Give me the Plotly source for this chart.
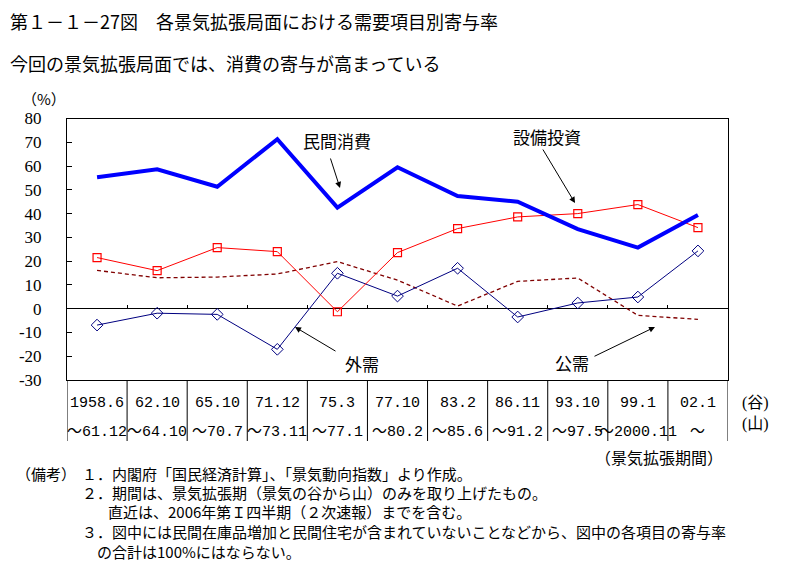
import plotly.graph_objects as go

# ---- data ----
periods_start = ["1958.6", "62.10", "65.10", "71.12", "75.3", "77.10",
                 "83.2", "86.11", "93.10", "99.1", "02.1"]
periods_end = ["～61.12", "～64.10", "～70.7", "～73.11", "～77.1", "～80.2",
               "～85.6", "～91.2", "～97.5", "～2000.11", "～"]
private_consumption = [55.3, 58.6, 51.3, 71.3, 42.5, 59.5, 47.4, 45.0, 33.5, 25.7, 39.4]
capex = [21.5, 16.0, 25.7, 24.0, -1.3, 23.6, 33.7, 38.6, 40.0, 43.8, 34.1]
external = [-6.9, -1.9, -2.4, -17.1, 14.9, 5.3, 17.0, -3.5, 2.4, 4.9, 24.3]
public = [16.1, 13.0, 13.3, 14.6, 19.8, 12.0, 1.1, 11.5, 12.9, -2.8, -4.5]
y_ticks = [80, 70, 60, 50, 40, 30, 20, 10, 0, -10, -20, -30]
y_tick_text = ["80", "70", "60", "50", "40", "30", "20", "10", "0", "-10", "-20", "-30"]

title = "第１－１－27図　各景気拡張局面における需要項目別寄与率"
subtitle = "今回の景気拡張局面では、消費の寄与が高まっている"
notes = [
    ("（備考）", 14),
    ("１．内閣府「国民経済計算」、「景気動向指数」より作成。", 80),
    ("２．期間は、景気拡張期（景気の谷から山）のみを取り上げたもの。", 80),
    ("直近は、2006年第Ｉ四半期（２次速報）までを含む。", 106),
    ("３．図中には民間在庫品増加と民間住宅が含まれていないことなどから、図中の各項目の寄与率", 80),
    ("の合計は100%にはならない。", 95),
]

W, H = 804, 586
OFF = 8  # page body margin offset
def px(x):
    return (x - OFF) / W
def py(y):
    return 1 - (y - OFF) / H

n = len(periods_start)
idx = list(range(n))
JP = "Noto Sans CJK JP"
NUM = "Liberation Serif, Noto Sans CJK JP"
MONO = "Liberation Mono, Noto Sans CJK JP"

fig = go.Figure()
fig.add_trace(go.Scatter(x=idx, y=public, mode="lines",
                         line=dict(color="#800000", width=1.3, dash="4px,3px"),
                         showlegend=False, hoverinfo="skip"))
fig.add_trace(go.Scatter(x=idx, y=external, mode="lines+markers",
                         line=dict(color="#000080", width=1),
                         marker=dict(symbol="diamond-open", size=9, color="#000080",
                                     line=dict(width=1, color="#000080")),
                         showlegend=False))
fig.add_trace(go.Scatter(x=idx, y=capex, mode="lines+markers",
                         line=dict(color="#ff0000", width=1),
                         marker=dict(symbol="square-open", size=8, color="#ff0000",
                                     line=dict(width=1.2, color="#ff0000")),
                         showlegend=False))
fig.add_trace(go.Scatter(x=idx, y=private_consumption, mode="lines",
                         line=dict(color="#0000ff", width=4),
                         showlegend=False))
# invisible helper for the zero-line tick axis
fig.add_trace(go.Scatter(x=idx, y=[0] * n, xaxis="x2", mode="lines",
                         line=dict(width=0), opacity=0, showlegend=False, hoverinfo="skip"))

x0, x1 = 67, 728
y0, y1 = 118.5, 380
ymin, ymax = -30, 80
zero_paper = py(y1) + (0 - ymin) / (ymax - ymin) * (py(y0) - py(y1))

fig.update_layout(
    width=W, height=H, margin=dict(l=0, r=0, t=0, b=0, pad=0, autoexpand=False),
    paper_bgcolor="white", plot_bgcolor="white",
    showlegend=False,
    xaxis=dict(domain=[px(x0), px(x1)], range=[-0.5, n - 0.5], showticklabels=False,
               ticks="", showgrid=False, zeroline=False, showline=True, automargin=False,
               linecolor="black", linewidth=1, mirror=True, fixedrange=True),
    xaxis2=dict(overlaying="x", anchor="free", position=zero_paper, side="bottom",
                range=[-0.5, n - 0.5], tickvals=[i + 0.5 for i in idx[:-1]],
                ticks="inside", ticklen=4, tickcolor="black", showticklabels=False,
                showgrid=False, zeroline=False, showline=False, automargin=False),
    yaxis=dict(domain=[py(y1), py(y0)], range=[ymin, ymax], tickvals=y_ticks,
               ticktext=y_tick_text, ticks="inside", ticklen=5, tickcolor="black",
               ticklabelstandoff=21, automargin=False,
               tickfont=dict(family=NUM, size=17, color="black"),
               showgrid=False, zeroline=True, zerolinecolor="black", zerolinewidth=1,
               showline=True, linecolor="black", linewidth=1, mirror=True),
)

shapes = []
for k in range(n + 1):
    shapes.append(dict(type="line", xref="x", yref="paper", x0=k - 0.5, x1=k - 0.5,
                       y0=py(380), y1=py(441), line=dict(color="black", width=1)))
fig.update_layout(shapes=shapes)

ann = []
ann.append(dict(text=title, x=px(8), y=py(20.5), xref="paper", yref="paper",
                xanchor="left", yanchor="middle", showarrow=False,
                font=dict(family=JP, size=18, color="black")))
ann.append(dict(text=subtitle, x=px(8), y=py(63), xref="paper", yref="paper",
                xanchor="left", yanchor="middle", showarrow=False,
                font=dict(family=JP, size=18, color="black")))
ann.append(dict(text="（%）", x=px(44), y=py(99), xref="paper", yref="paper",
                xanchor="center", yanchor="middle", showarrow=False,
                font=dict(family=JP, size=15, color="black")))
for i in idx:
    ann.append(dict(text=periods_start[i], x=i, y=py(403), xref="x", yref="paper",
                    xanchor="center", yanchor="middle", showarrow=False,
                    font=dict(family=MONO, size=15, color="black")))
    ann.append(dict(text=periods_end[i], x=i, y=py(432), xref="x", yref="paper",
                    xanchor="center", yanchor="middle", showarrow=False,
                    font=dict(family=MONO, size=15, color="black")))
ann.append(dict(text="(谷)", x=px(755), y=py(403), xref="paper", yref="paper",
                xanchor="center", yanchor="middle", showarrow=False,
                font=dict(family=NUM, size=16, color="black")))
ann.append(dict(text="(山)", x=px(755), y=py(424), xref="paper", yref="paper",
                xanchor="center", yanchor="middle", showarrow=False,
                font=dict(family=NUM, size=16, color="black")))
ann.append(dict(text="（景気拡張期間）", x=px(659), y=py(457), xref="paper", yref="paper",
                xanchor="center", yanchor="middle", showarrow=False,
                font=dict(family=JP, size=16, color="black")))

# callout labels with arrows
callouts = [
    ("民間消費", (337, 141), (330, 157), (340, 188)),
    ("外需", (362, 363), (337, 352), (295, 327)),
    ("設備投資", (547, 136), (542, 148), (575, 203)),
    ("公需", (572, 362), (593, 357), (655, 327)),
]
for text, (tx, ty), (ax_, ay_), (hx, hy) in callouts:
    ann.append(dict(text=text, x=px(tx), y=py(ty), xref="paper", yref="paper",
                    xanchor="center", yanchor="middle", showarrow=False,
                    font=dict(family=JP, size=17, color="black")))
    ann.append(dict(text="", x=px(hx), y=py(hy), xref="paper", yref="paper",
                    showarrow=True, ax=ax_ - hx, ay=ay_ - hy, arrowhead=2,
                    arrowsize=1.2, arrowwidth=1, arrowcolor="black", standoff=0))

note_y = [473, 473, 492, 511, 531, 551.5]
for (text, nx), ny in zip(notes, note_y):
    ann.append(dict(text=text, x=px(nx), y=py(ny), xref="paper", yref="paper",
                    xanchor="left", yanchor="middle", showarrow=False,
                    font=dict(family=JP, size=15, color="black")))

fig.update_layout(annotations=ann)
fig.write_html("out.html")
